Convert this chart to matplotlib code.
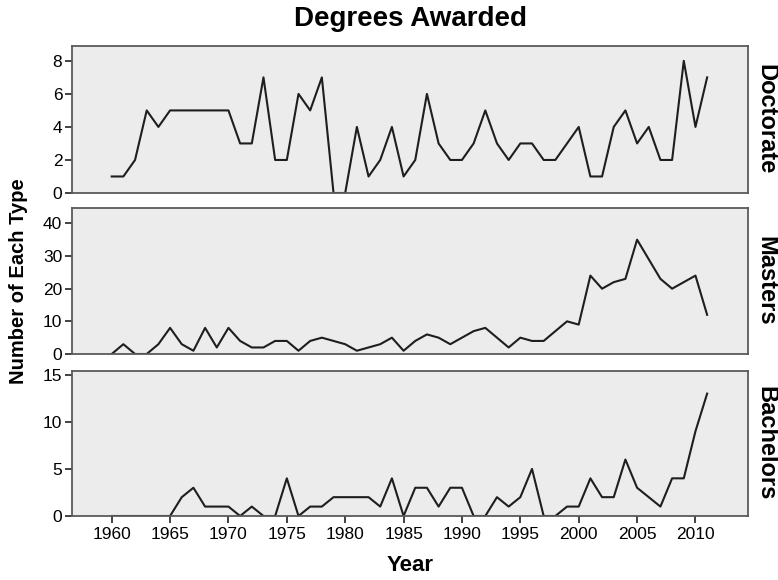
import matplotlib
matplotlib.use("Agg")
import matplotlib.pyplot as plt

plt.rcParams['font.family'] = ['Liberation Sans', 'DejaVu Sans']

years = list(range(1960, 2012))
doctorate = [1, 1, 2, 5, 4, 5, 5, 5, 5, 5, 5, 3, 3, 7, 2, 2, 6, 5, 7, 0,
             0, 4, 1, 2, 4, 1, 2, 6, 3, 2, 2, 3, 5, 3, 2, 3, 3, 2, 2, 3,
             4, 1, 1, 4, 5, 3, 4, 2, 2, 8, 4, 7]
masters = [0, 3, 0, 0, 3, 8, 3, 1, 8, 2, 8, 4, 2, 2, 4, 4, 1, 4, 5, 4,
           3, 1, 2, 3, 5, 1, 4, 6, 5, 3, 5, 7, 8, 5, 2, 5, 4, 4, 7, 10,
           9, 24, 20, 22, 23, 35, 29, 23, 20, 22, 24, 12]
bachelors = [0, 0, 0, 0, 0, 0, 2, 3, 1, 1, 1, 0, 1, 0, 0, 4, 0, 1, 1, 2,
             2, 2, 2, 1, 4, 0, 3, 3, 1, 3, 3, 0, 0, 2, 1, 2, 5, 0, 0, 1,
             1, 4, 2, 2, 6, 3, 2, 1, 4, 4, 9, 13]

panel_names = ["Doctorate", "Masters", "Bachelors"]
series = [doctorate, masters, bachelors]
y_ticks = [[0, 2, 4, 6, 8], [0, 10, 20, 30, 40], [0, 5, 10, 15]]
y_limits = [(0, 8.9), (0, 44.7), (0, 15.4)]
x_ticks = list(range(1960, 2011, 5))

W, H = 778, 580
fig = plt.figure(figsize=(W / 100, H / 100), dpi=100)

left, right = 72, 748
panels_px = [(46, 193), (208, 354), (371, 516)]

for i, (name, vals) in enumerate(zip(panel_names, series)):
    top, bot = panels_px[i]
    ax = fig.add_axes([left / W, 1 - bot / H, (right - left) / W, (bot - top) / H])
    ax.set_facecolor('#ececec')
    ax.plot(years, vals, color='#1e1e1e', linewidth=1.5)
    ax.set_xlim(1956.6, 2014.5)
    ax.set_ylim(*y_limits[i])
    ax.set_yticks(y_ticks[i])
    ax.tick_params(axis='y', labelsize=12.5, length=5, width=1.3, color='#333333', pad=2)
    for s in ax.spines.values():
        s.set_color('#5a5a5a')
        s.set_linewidth(1.3)
    if i < 2:
        ax.set_xticks([])
    else:
        ax.set_xticks(x_ticks)
        ax.tick_params(axis='x', labelsize=12.5, length=5, width=1.3, color='#333333', pad=3)
        ax.set_xlabel("Year", fontsize=16, fontweight='bold', labelpad=9)
    ax.text(1.01, 0.5, name, transform=ax.transAxes, rotation=-90,
            ha='left', va='center', fontsize=17, fontweight='bold')

fig.text(410 / W, 1 - 19 / H, "Degrees Awarded", ha='center', va='center',
         fontsize=20, fontweight='bold')
fig.text(19 / W, 1 - 281 / H, "Number of Each Type", rotation=90,
         ha='center', va='center', fontsize=14.5, fontweight='bold')

fig.savefig("out.png", dpi=100)
